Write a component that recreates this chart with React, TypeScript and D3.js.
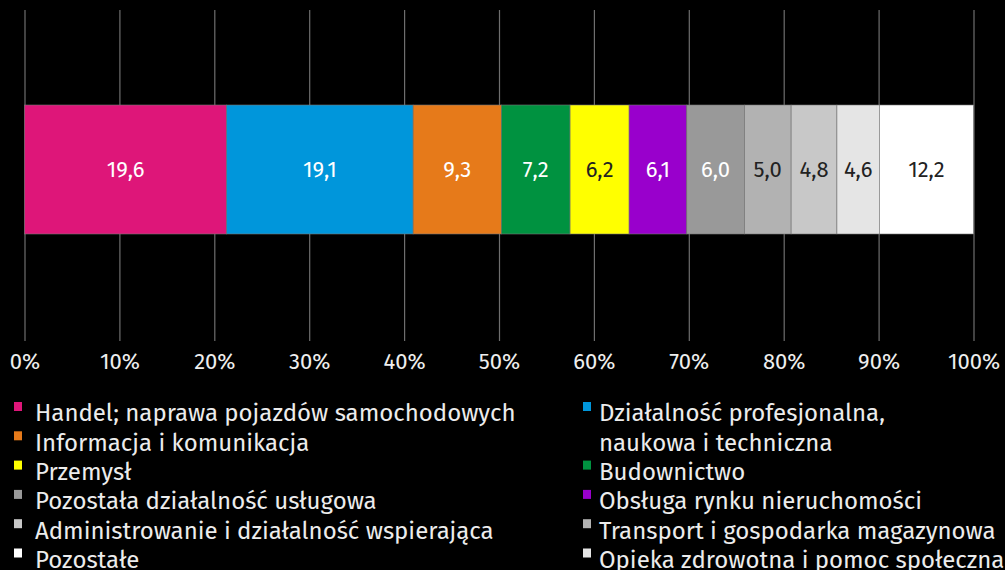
import React, { useEffect, useRef } from 'react';
import * as d3 from 'd3';

// bar segments as drawn (share of total, %), and the printed labels
const categories = [
  'Handel; naprawa pojazdów samochodowych',
  'Działalność profesjonalna, naukowa i techniczna',
  'Informacja i komunikacja',
  'Budownictwo',
  'Przemysł',
  'Obsługa rynku nieruchomości',
  'Pozostała działalność usługowa',
  'Transport i gospodarka magazynowa',
  'Administrowanie i działalność wspierająca',
  'Opieka zdrowotna i pomoc społeczna',
  'Pozostałe',
];
const shares = [21.3, 19.65, 9.3, 7.24, 6.22, 6.08, 6.07, 4.92, 4.83, 4.47, 9.92];
const shareLabels = ['19,6', '19,1', '9,3', '7,2', '6,2', '6,1', '6,0', '5,0', '4,8', '4,6', '12,2'];
const colors = ['#de1679', '#0096db', '#e67a1a', '#009240', '#ffff00', '#9900cc', '#999999', '#b2b2b2', '#c8c8c8', '#e5e5e5', '#ffffff'];
const darkText = ['Przemysł', 'Transport i gospodarka magazynowa', 'Administrowanie i działalność wspierająca', 'Opieka zdrowotna i pomoc społeczna', 'Pozostałe'];
const xTicks = [0, 10, 20, 30, 40, 50, 60, 70, 80, 90, 100];

// legend: left column / right column, row index of each entry
const legendLeft = [0, 2, 4, 6, 8, 10];
const legendRight = [1, 3, 5, 7, 9];
const legendRightRows = [0, 2, 3, 4, 5];

const FONT = "'Fira Sans', 'Noto Sans', sans-serif";

export default function App() {
  const ref = useRef<SVGSVGElement | null>(null);

  useEffect(() => {
    const width = 1005;
    const height = 570;
    const svg = d3.select(ref.current);
    svg.selectAll('*').remove();
    svg.attr('width', width).attr('height', height).style('background', '#000');

    const x = d3.scaleLinear().domain([0, 100]).range([24.5, 973.5]);
    const barTop = 105;
    const barBottom = 234;
    const axisY = 341;

    // gridlines + tick labels
    const axis = d3.axisBottom(x)
      .tickValues(xTicks)
      .tickSize(-(axisY - 10))
      .tickPadding(12)
      .tickFormat((d) => `${d}%`);

    const g = svg.append('g').attr('transform', `translate(0,${axisY})`).call(axis);
    g.select('.domain').remove();
    g.selectAll('line').attr('stroke', '#6e6e6e').attr('stroke-width', 1.2);
    g.selectAll('text')
      .attr('fill', '#eeeeee')
      .style('font-family', FONT)
      .style('font-size', '22px');

    // stacked bar
    const row: Record<string, number> = {};
    categories.forEach((c, i) => { row[c] = shares[i]; });
    const stacked = d3.stack<Record<string, number>>().keys(categories)([row]);

    const seg = svg.append('g').selectAll('g')
      .data(stacked)
      .enter()
      .append('g');

    seg.append('rect')
      .attr('x', (d) => x(d[0][0]))
      .attr('y', barTop)
      .attr('width', (d) => x(d[0][1]) - x(d[0][0]))
      .attr('height', barBottom - barTop)
      .attr('fill', (d, i) => colors[i])
      .attr('stroke', '#777')
      .attr('stroke-width', 0.6);

    seg.append('text')
      .attr('x', (d) => (x(d[0][0]) + x(d[0][1])) / 2)
      .attr('y', (barTop + barBottom) / 2)
      .attr('dy', '0.35em')
      .attr('text-anchor', 'middle')
      .style('font-family', FONT)
      .style('font-size', '22px')
      .attr('fill', (d) => (darkText.includes(d.key) ? '#222' : '#fff'))
      .text((d, i) => shareLabels[i]);

    // legend
    const rowY = (r: number) => 413 + r * 29.3;
    const leg = svg.append('g').style('font-family', FONT).style('font-size', '24px');

    legendLeft.forEach((ci, r) => {
      leg.append('rect').attr('x', 14).attr('y', rowY(r) - 11).attr('width', 8).attr('height', 9).attr('fill', colors[ci]);
      leg.append('text').attr('x', 35).attr('y', rowY(r)).attr('dy', '0.35em').attr('fill', '#ececec').text(categories[ci]);
    });

    legendRight.forEach((ci, k) => {
      const r = legendRightRows[k];
      leg.append('rect').attr('x', 583).attr('y', rowY(r) - 11).attr('width', 8).attr('height', 9).attr('fill', colors[ci]);
      const t = leg.append('text').attr('x', 599).attr('y', rowY(r)).attr('dy', '0.35em').attr('fill', '#ececec');
      if (ci === 1) {
        t.append('tspan').attr('x', 599).text('Działalność profesjonalna,');
        t.append('tspan').attr('x', 599).attr('dy', 29.3).text('naukowa i techniczna');
      } else {
        t.text(categories[ci]);
      }
    });
  }, []);

  return (
    <div style={{ position: 'absolute', left: 0, top: 0 }}>
      <svg ref={ref} style={{ display: 'block' }} />
    </div>
  );
}
